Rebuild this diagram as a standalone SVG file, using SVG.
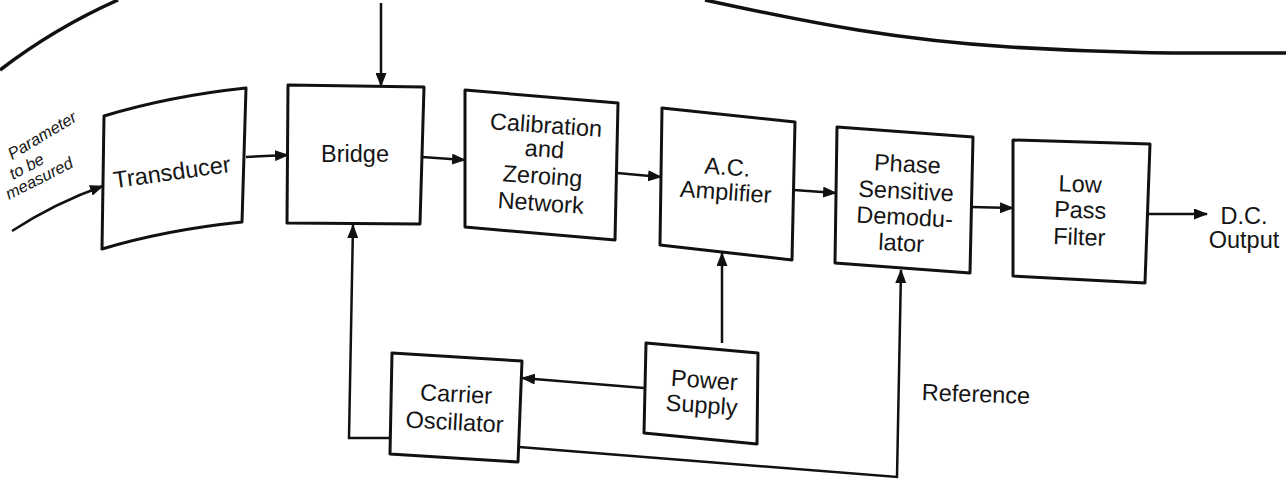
<svg xmlns="http://www.w3.org/2000/svg" width="1286" height="486" viewBox="0 0 1286 486">
<style>
.box{fill:none;stroke:#111;stroke-width:3;stroke-linejoin:round}
.wire{fill:none;stroke:#111;stroke-width:2.5}
.lbl{font-family:"Liberation Sans",Arial,sans-serif;font-size:23.5px;fill:#151515;text-anchor:middle}
.sm{font-family:"Liberation Sans",Arial,sans-serif;font-size:16.5px;font-style:italic;fill:#151515}
</style>
<defs>
<marker id="ah" viewBox="0 0 14 11" refX="13" refY="5.5" markerWidth="14" markerHeight="11" markerUnits="userSpaceOnUse" orient="auto">
<path d="M0,0 L14,5.5 L0,11 Z" fill="#111"/>
</marker>
</defs>
<rect width="1286" height="486" fill="#fff"/>
<!-- page header rules (scan) -->
<path d="M0,70 Q55,28 118,0" fill="none" stroke="#111" stroke-width="3.5"/>
<path d="M705,0 C820,25 900,40 1010,47 S1200,53 1286,53" fill="none" stroke="#111" stroke-width="3.5"/>

<g id="connectors">
<path class="wire" d="M12,231 Q55,203 103,186" marker-end="url(#ah)"/>
<line class="wire" x1="246" y1="157" x2="288" y2="155" marker-end="url(#ah)"/>
<line class="wire" x1="422" y1="157" x2="465" y2="160" marker-end="url(#ah)"/>
<line class="wire" x1="617" y1="173" x2="661" y2="177" marker-end="url(#ah)"/>
<line class="wire" x1="794" y1="190" x2="836" y2="193" marker-end="url(#ah)"/>
<line class="wire" x1="971" y1="207" x2="1013" y2="208" marker-end="url(#ah)"/>
<line class="wire" x1="1147" y1="214" x2="1207" y2="214" marker-end="url(#ah)"/>
<line class="wire" x1="381" y1="3" x2="381" y2="86" marker-end="url(#ah)"/>
<polyline class="wire" points="390,438 349,438 353,225" marker-end="url(#ah)"/>
<line class="wire" x1="644" y1="388" x2="522" y2="378" marker-end="url(#ah)"/>
<line class="wire" x1="722" y1="343" x2="722" y2="253" marker-end="url(#ah)"/>
<polyline class="wire" points="519,447 897,477 901,270" marker-end="url(#ah)"/>
</g>

<g id="input-label">
<text class="sm" transform="translate(12,160) rotate(-31)">Parameter</text>
<text class="sm" transform="translate(13,180) rotate(-28)">to be</text>
<text class="sm" transform="translate(9,200) rotate(-27)">measured</text>
</g>

<g id="transducer">
<path class="box" d="M104,116 Q170,96 246,88 L242,222 Q165,230 102,249 Z"/>
<text class="lbl" transform="translate(173,180) rotate(-8)">Transducer</text>
</g>

<g id="bridge">
<polygon class="box" points="288,85 424,87 420,224 287,223"/>
<text class="lbl" x="355" y="162">Bridge</text>
</g>

<g id="calibration">
<polygon class="box" points="465,90 618,103 615,240 465,227"/>
<g transform="rotate(4 543 170)">
<text class="lbl" x="543" y="133">Calibration</text>
<text class="lbl" x="543" y="157">and</text>
<text class="lbl" x="543" y="184">Zeroing</text>
<text class="lbl" x="543" y="211">Network</text>
</g>
</g>

<g id="ac-amplifier">
<polygon class="box" points="662,108 795,122 792,260 660,245"/>
<g transform="rotate(4 726 188)">
<text class="lbl" x="726" y="175">A.C.</text>
<text class="lbl" x="726" y="200">Amplifier</text>
</g>
</g>

<g id="demodulator">
<polygon class="box" points="837,127 973,137 970,273 835,263"/>
<g transform="rotate(3 905 210)">
<text class="lbl" x="905" y="172">Phase</text>
<text class="lbl" x="905" y="199">Sensitive</text>
<text class="lbl" x="905" y="225">Demodu-</text>
<text class="lbl" x="903" y="251">lator</text>
</g>
</g>

<g id="low-pass-filter">
<polygon class="box" points="1013,140 1150,144 1145,283 1013,276"/>
<g transform="rotate(2 1080 218)">
<text class="lbl" x="1079" y="192">Low</text>
<text class="lbl" x="1080" y="218">Pass</text>
<text class="lbl" x="1080" y="245">Filter</text>
</g>
</g>

<g id="dc-output">
<text class="lbl" x="1244" y="224">D.C.</text>
<text class="lbl" x="1244" y="248">Output</text>
</g>

<g id="carrier-oscillator">
<polygon class="box" points="392,353 522,361 518,462 390,454"/>
<g transform="rotate(3 455 415)">
<text class="lbl" x="455" y="402">Carrier</text>
<text class="lbl" x="455" y="430">Oscillator</text>
</g>
</g>

<g id="power-supply">
<polygon class="box" points="646,343 758,353 757,444 644,433"/>
<g transform="rotate(4 702 400)">
<text class="lbl" x="703" y="388">Power</text>
<text class="lbl" x="702" y="413">Supply</text>
</g>
</g>

<g id="reference-label">
<text class="lbl" x="976" y="402" transform="rotate(2 976 395)">Reference</text>
</g>
</svg>
